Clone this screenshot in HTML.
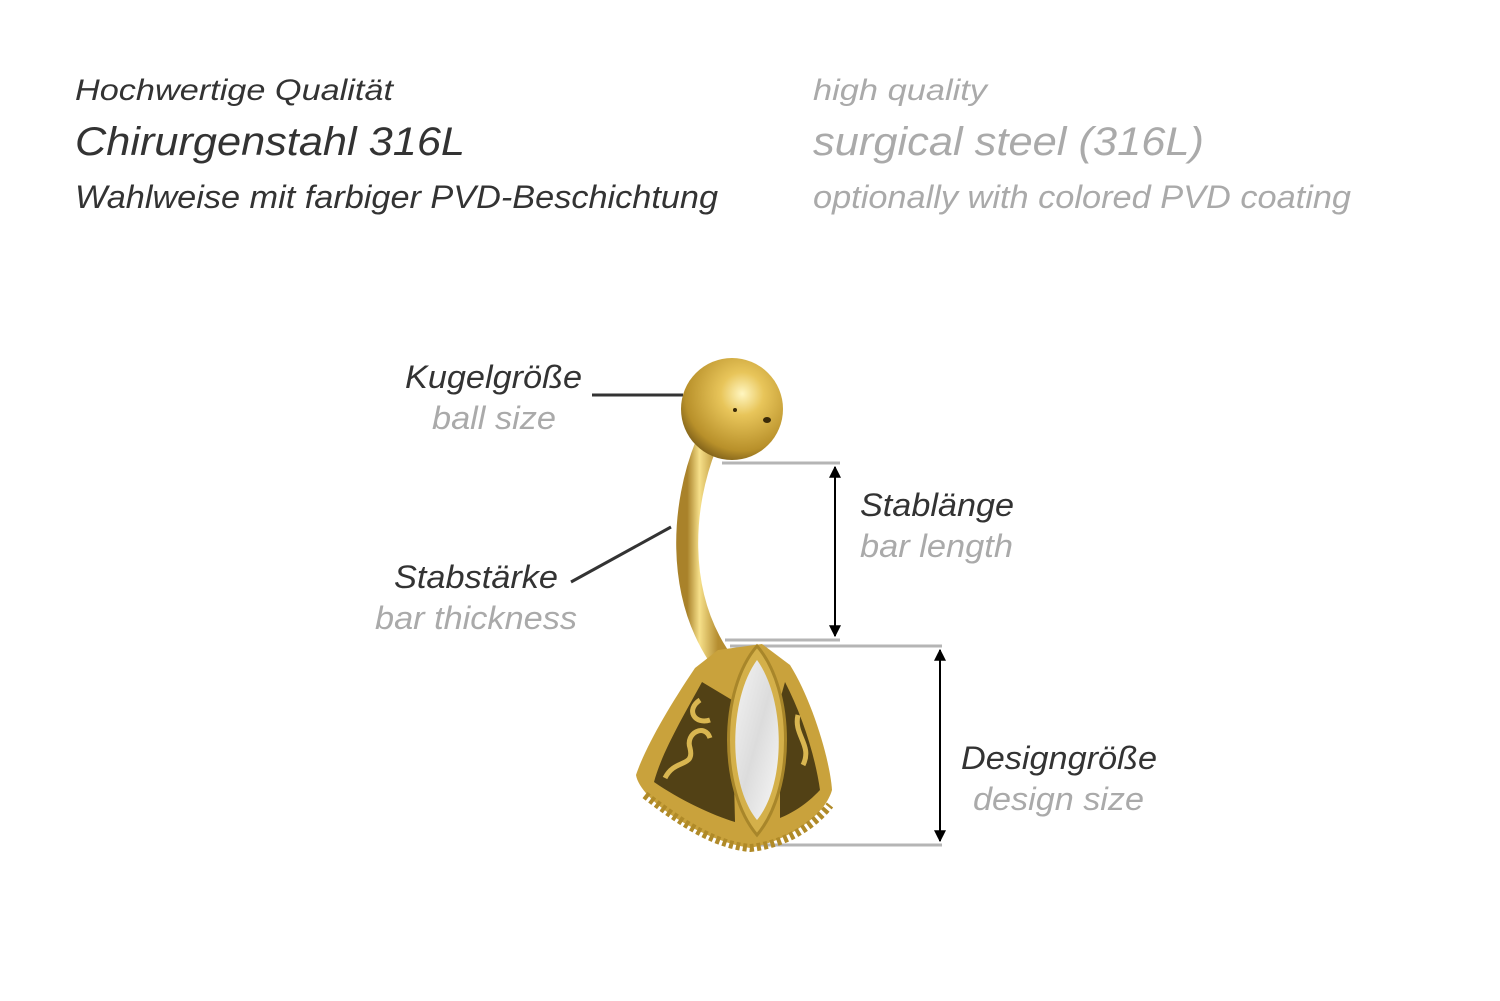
<!DOCTYPE html>
<html><head><meta charset="utf-8"><style>
html,body{margin:0;padding:0;background:#fff;width:1500px;height:1001px;overflow:hidden}
svg text{font-family:"Liberation Sans",sans-serif;font-style:italic}
.d{fill:#333}.g{fill:#aaa}
</style></head><body>
<svg width="1500" height="1001" viewBox="0 0 1500 1001" xmlns="http://www.w3.org/2000/svg">
<defs>
<radialGradient id="ball" cx="0.6" cy="0.35" r="0.7">
<stop offset="0" stop-color="#fff6c0"/><stop offset="0.3" stop-color="#e8c55a"/><stop offset="0.8" stop-color="#b8902a"/><stop offset="1" stop-color="#7a5c18"/></radialGradient>
<linearGradient id="bar" x1="0" x2="1"><stop offset="0" stop-color="#a9822a"/><stop offset="0.4" stop-color="#f6e08a"/><stop offset="1" stop-color="#b58d30"/></linearGradient>
<linearGradient id="gem" x1="0" x2="1" y1="0" y2="1"><stop offset="0" stop-color="#f4f4f4"/><stop offset="0.5" stop-color="#dcdcdc"/><stop offset="1" stop-color="#f8f8f8"/></linearGradient>
<marker id="ah" viewBox="0 0 10 10" refX="9" refY="5" markerWidth="6" markerHeight="8" orient="auto-start-reverse"><path d="M0,0L10,5L0,10z" fill="#000"/></marker>
</defs>
<text class="d" x="75" y="100" font-size="30" textLength="318" lengthAdjust="spacingAndGlyphs">Hochwertige Qualität</text>
<text class="d" x="75" y="155" font-size="40" textLength="390" lengthAdjust="spacingAndGlyphs">Chirurgenstahl 316L</text>
<text class="d" x="75" y="208" font-size="32" textLength="643" lengthAdjust="spacingAndGlyphs">Wahlweise mit farbiger PVD-Beschichtung</text>
<text class="g" x="813" y="100" font-size="30" textLength="174" lengthAdjust="spacingAndGlyphs">high quality</text>
<text class="g" x="813" y="155" font-size="40" textLength="391" lengthAdjust="spacingAndGlyphs">surgical steel (316L)</text>
<text class="g" x="813" y="208" font-size="32" textLength="538" lengthAdjust="spacingAndGlyphs">optionally with colored PVD coating</text>

<text class="d" x="405" y="388" font-size="32" textLength="177" lengthAdjust="spacingAndGlyphs">Kugelgröße</text>
<text class="g" x="432" y="429" font-size="32" textLength="124" lengthAdjust="spacingAndGlyphs">ball size</text>
<text class="d" x="394" y="588" font-size="32" textLength="164" lengthAdjust="spacingAndGlyphs">Stabstärke</text>
<text class="g" x="375" y="629" font-size="32" textLength="202" lengthAdjust="spacingAndGlyphs">bar thickness</text>
<text class="d" x="860" y="516" font-size="32" textLength="154" lengthAdjust="spacingAndGlyphs">Stablänge</text>
<text class="g" x="860" y="557" font-size="32" textLength="153" lengthAdjust="spacingAndGlyphs">bar length</text>
<text class="d" x="961" y="769" font-size="32" textLength="196" lengthAdjust="spacingAndGlyphs">Designgröße</text>
<text class="g" x="973" y="810" font-size="32" textLength="171" lengthAdjust="spacingAndGlyphs">design size</text>

<line x1="592" y1="395" x2="683" y2="395" stroke="#333" stroke-width="3"/>
<line x1="571" y1="582" x2="671" y2="527" stroke="#333" stroke-width="3"/>
<g stroke="#b5b5b5" stroke-width="3">
<line x1="722" y1="463" x2="840" y2="463"/><line x1="725" y1="640" x2="840" y2="640"/>
<line x1="730" y1="646" x2="942" y2="646"/><line x1="750" y1="845" x2="942" y2="845"/></g>
<line x1="835" y1="467" x2="835" y2="636" stroke="#000" stroke-width="2" marker-start="url(#ah)" marker-end="url(#ah)"/>
<line x1="940" y1="650" x2="940" y2="841" stroke="#000" stroke-width="2" marker-start="url(#ah)" marker-end="url(#ah)"/>

<path d="M706,445 C682,505 676,590 718,655" fill="none" stroke="url(#bar)" stroke-width="22" stroke-linecap="round"/>
<circle cx="732" cy="409" r="51" fill="url(#ball)"/>
<ellipse cx="767" cy="420" rx="4" ry="3" fill="#3a2a08"/>
<circle cx="735" cy="410" r="2" fill="#3a2a08"/>

<path d="M718,650 L695,668 C668,708 645,748 636,775 C640,800 700,840 750,848 C790,840 825,815 832,790 C830,760 812,700 790,665 L762,644 Z" fill="#c9a23c"/>
<path d="M702,682 C684,715 662,752 654,782 C680,800 712,815 735,822 L732,700 Z" fill="#2a2008" opacity="0.75"/>
<path d="M785,682 C802,715 815,755 820,790 C806,805 792,813 780,818 L780,700 Z" fill="#2a2008" opacity="0.75"/>
<g fill="none" stroke="#d9b650" stroke-width="5">
<path d="M665,778 c10,-20 30,-10 25,-30 c-5,-15 15,-25 20,-10"/>
<path d="M700,700 c-15,10 -5,25 10,20"/>
<path d="M803,765 c10,-20 -10,-30 -5,-50"/>
</g>
<path d="M757,646 C795,690 795,790 757,835 C719,790 719,690 757,646 Z" fill="#d4b04a" stroke="#a8862a" stroke-width="3"/>
<path d="M757,660 C786,700 786,785 757,820 C728,785 728,700 757,660 Z" fill="url(#gem)"/>
<path d="M645,795 C690,830 720,845 750,848 C780,845 810,830 830,805" fill="none" stroke="#b08a28" stroke-width="8" stroke-dasharray="4 3"/>
</svg>
</body></html>
